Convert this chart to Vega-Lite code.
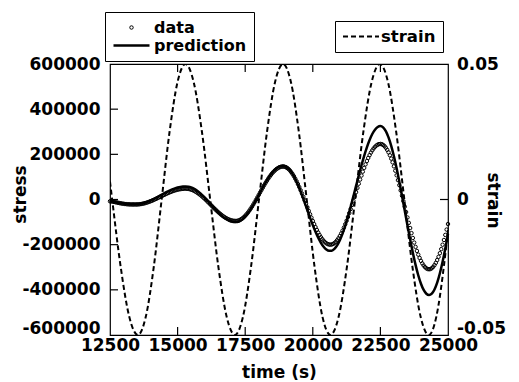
{
  "$schema": "https://vega.github.io/schema/vega-lite/v6.json",
  "width": 338,
  "height": 271,
  "autosize": {"type": "none"},
  "padding": {"left": 110, "top": 64, "right": 71, "bottom": 47},
  "background": "white",
  "config": {
    "view": {"stroke": "black", "strokeWidth": 1.2},
    "font": "DejaVu Sans",
    "axis": {
      "labelFont": "DejaVu Sans", "labelFontWeight": "bold", "labelFontSize": 17, "labelColor": "black",
      "titleFont": "DejaVu Sans", "titleFontWeight": "bold", "titleFontSize": 17, "titleColor": "black",
      "domain": false, "ticks": false, "grid": false,
      "labelFlush": false, "labelOverlap": false
    },
    "legend": {
      "labelFont": "DejaVu Sans", "labelFontWeight": "bold", "labelColor": "black",
      "strokeColor": "black", "fillColor": "white", "padding": 7
    }
  },
  "datasets": {
    "measured": [
      {"t": 12500, "stress": -8000}, {"t": 12550, "stress": -8600}, {"t": 12600, "stress": -9500}, {"t": 12650, "stress": -10700},
      {"t": 12700, "stress": -12000}, {"t": 12750, "stress": -13200}, {"t": 12800, "stress": -14500}, {"t": 12850, "stress": -15800},
      {"t": 12900, "stress": -17000}, {"t": 12950, "stress": -18000}, {"t": 13000, "stress": -19000}, {"t": 13050, "stress": -19800},
      {"t": 13100, "stress": -20500}, {"t": 13150, "stress": -21000}, {"t": 13200, "stress": -21500}, {"t": 13250, "stress": -21800},
      {"t": 13300, "stress": -22000}, {"t": 13350, "stress": -22000}, {"t": 13400, "stress": -22000}, {"t": 13450, "stress": -22000},
      {"t": 13500, "stress": -21900}, {"t": 13550, "stress": -21500}, {"t": 13600, "stress": -20900}, {"t": 13650, "stress": -20000},
      {"t": 13700, "stress": -18900}, {"t": 13750, "stress": -17600}, {"t": 13800, "stress": -16000}, {"t": 13850, "stress": -14200},
      {"t": 13900, "stress": -12300}, {"t": 13950, "stress": -10100}, {"t": 14000, "stress": -7800}, {"t": 14050, "stress": -5400},
      {"t": 14100, "stress": -2800}, {"t": 14150, "stress": -50}, {"t": 14200, "stress": 2800}, {"t": 14250, "stress": 5600},
      {"t": 14300, "stress": 8600}, {"t": 14350, "stress": 11500}, {"t": 14400, "stress": 14500}, {"t": 14450, "stress": 17400},
      {"t": 14500, "stress": 20400}, {"t": 14550, "stress": 23300}, {"t": 14600, "stress": 26100}, {"t": 14650, "stress": 28800},
      {"t": 14700, "stress": 31300}, {"t": 14750, "stress": 33800}, {"t": 14800, "stress": 36200}, {"t": 14850, "stress": 38300},
      {"t": 14900, "stress": 40200}, {"t": 14950, "stress": 42000}, {"t": 15000, "stress": 43600}, {"t": 15050, "stress": 44900},
      {"t": 15100, "stress": 46000}, {"t": 15150, "stress": 46900}, {"t": 15200, "stress": 47500}, {"t": 15250, "stress": 47900},
      {"t": 15300, "stress": 48000}, {"t": 15350, "stress": 47700}, {"t": 15400, "stress": 47000}, {"t": 15450, "stress": 45700},
      {"t": 15500, "stress": 43900}, {"t": 15550, "stress": 41700}, {"t": 15600, "stress": 38900}, {"t": 15650, "stress": 35700},
      {"t": 15700, "stress": 32100}, {"t": 15750, "stress": 28100}, {"t": 15800, "stress": 23700}, {"t": 15850, "stress": 19000},
      {"t": 15900, "stress": 14000}, {"t": 15950, "stress": 8700}, {"t": 16000, "stress": 3200}, {"t": 16050, "stress": -2600},
      {"t": 16100, "stress": -8400}, {"t": 16150, "stress": -14400}, {"t": 16200, "stress": -20500}, {"t": 16250, "stress": -26500},
      {"t": 16300, "stress": -32600}, {"t": 16350, "stress": -38600}, {"t": 16400, "stress": -44400}, {"t": 16450, "stress": -50200},
      {"t": 16500, "stress": -55700}, {"t": 16550, "stress": -61000}, {"t": 16600, "stress": -66000}, {"t": 16650, "stress": -70800},
      {"t": 16700, "stress": -75100}, {"t": 16750, "stress": -79100}, {"t": 16800, "stress": -82700}, {"t": 16850, "stress": -85900},
      {"t": 16900, "stress": -88700}, {"t": 16950, "stress": -90900}, {"t": 17000, "stress": -92700}, {"t": 17050, "stress": -94000},
      {"t": 17100, "stress": -94700}, {"t": 17150, "stress": -95000}, {"t": 17200, "stress": -94500}, {"t": 17250, "stress": -93100},
      {"t": 17300, "stress": -90700}, {"t": 17350, "stress": -87300}, {"t": 17400, "stress": -83100}, {"t": 17450, "stress": -77900},
      {"t": 17500, "stress": -72000}, {"t": 17550, "stress": -65200}, {"t": 17600, "stress": -57800}, {"t": 17650, "stress": -49600},
      {"t": 17700, "stress": -40900}, {"t": 17750, "stress": -31600}, {"t": 17800, "stress": -21900}, {"t": 17850, "stress": -11700},
      {"t": 17900, "stress": -1300}, {"t": 17950, "stress": 9300}, {"t": 18000, "stress": 20100}, {"t": 18050, "stress": 30900},
      {"t": 18100, "stress": 41700}, {"t": 18150, "stress": 52300}, {"t": 18200, "stress": 62700}, {"t": 18250, "stress": 72900},
      {"t": 18300, "stress": 82600}, {"t": 18350, "stress": 91900}, {"t": 18400, "stress": 100600}, {"t": 18450, "stress": 108800},
      {"t": 18500, "stress": 116200}, {"t": 18550, "stress": 123000}, {"t": 18600, "stress": 128900}, {"t": 18650, "stress": 134100},
      {"t": 18700, "stress": 138300}, {"t": 18750, "stress": 141700}, {"t": 18800, "stress": 144100}, {"t": 18850, "stress": 145500},
      {"t": 18900, "stress": 146000}, {"t": 18950, "stress": 145300}, {"t": 19000, "stress": 143200}, {"t": 19050, "stress": 139800},
      {"t": 19100, "stress": 135000}, {"t": 19150, "stress": 128900}, {"t": 19200, "stress": 121500}, {"t": 19250, "stress": 113000},
      {"t": 19300, "stress": 103300}, {"t": 19350, "stress": 92500}, {"t": 19400, "stress": 80900}, {"t": 19450, "stress": 68300},
      {"t": 19500, "stress": 55000}, {"t": 19550, "stress": 41000}, {"t": 19600, "stress": 26500}, {"t": 19650, "stress": 11500},
      {"t": 19700, "stress": -3800}, {"t": 19750, "stress": -19300}, {"t": 19800, "stress": -34800}, {"t": 19850, "stress": -50200},
      {"t": 19900, "stress": -65500}, {"t": 19950, "stress": -80500}, {"t": 20000, "stress": -95000}, {"t": 20050, "stress": -109000},
      {"t": 20100, "stress": -122300}, {"t": 20150, "stress": -134900}, {"t": 20200, "stress": -146500}, {"t": 20250, "stress": -157300},
      {"t": 20300, "stress": -167000}, {"t": 20350, "stress": -175500}, {"t": 20400, "stress": -182900}, {"t": 20450, "stress": -189000},
      {"t": 20500, "stress": -193800}, {"t": 20550, "stress": -197200}, {"t": 20600, "stress": -199300}, {"t": 20650, "stress": -200000},
      {"t": 20700, "stress": -199200}, {"t": 20750, "stress": -196800}, {"t": 20800, "stress": -192800}, {"t": 20850, "stress": -187300},
      {"t": 20900, "stress": -180200}, {"t": 20950, "stress": -171700}, {"t": 21000, "stress": -161800}, {"t": 21050, "stress": -150500},
      {"t": 21100, "stress": -138000}, {"t": 21150, "stress": -124300}, {"t": 21200, "stress": -109600}, {"t": 21250, "stress": -93900},
      {"t": 21300, "stress": -77400}, {"t": 21350, "stress": -60100}, {"t": 21400, "stress": -42300}, {"t": 21450, "stress": -24000},
      {"t": 21500, "stress": -5300}, {"t": 21550, "stress": 13500}, {"t": 21600, "stress": 32500}, {"t": 21650, "stress": 51300},
      {"t": 21700, "stress": 70000}, {"t": 21750, "stress": 88300}, {"t": 21800, "stress": 106100}, {"t": 21850, "stress": 123400},
      {"t": 21900, "stress": 139900}, {"t": 21950, "stress": 155600}, {"t": 22000, "stress": 170300}, {"t": 22050, "stress": 184100},
      {"t": 22100, "stress": 196500}, {"t": 22150, "stress": 207800}, {"t": 22200, "stress": 217700}, {"t": 22250, "stress": 226200},
      {"t": 22300, "stress": 233300}, {"t": 22350, "stress": 238800}, {"t": 22400, "stress": 242800}, {"t": 22450, "stress": 245200},
      {"t": 22500, "stress": 246000}, {"t": 22550, "stress": 244900}, {"t": 22600, "stress": 241800}, {"t": 22650, "stress": 236500},
      {"t": 22700, "stress": 229300}, {"t": 22750, "stress": 220000}, {"t": 22800, "stress": 208800}, {"t": 22850, "stress": 195800},
      {"t": 22900, "stress": 181100}, {"t": 22950, "stress": 164700}, {"t": 23000, "stress": 146900}, {"t": 23050, "stress": 127700},
      {"t": 23100, "stress": 107300}, {"t": 23150, "stress": 85800}, {"t": 23200, "stress": 63400}, {"t": 23250, "stress": 40300},
      {"t": 23300, "stress": 16700}, {"t": 23350, "stress": -7300}, {"t": 23400, "stress": -31500}, {"t": 23450, "stress": -55700},
      {"t": 23500, "stress": -79700}, {"t": 23550, "stress": -103300}, {"t": 23600, "stress": -126400}, {"t": 23650, "stress": -148800},
      {"t": 23700, "stress": -170300}, {"t": 23750, "stress": -190700}, {"t": 23800, "stress": -209900}, {"t": 23850, "stress": -227700},
      {"t": 23900, "stress": -244100}, {"t": 23950, "stress": -258800}, {"t": 24000, "stress": -271800}, {"t": 24050, "stress": -283000},
      {"t": 24100, "stress": -292300}, {"t": 24150, "stress": -299500}, {"t": 24200, "stress": -304800}, {"t": 24250, "stress": -307900},
      {"t": 24300, "stress": -309000}, {"t": 24350, "stress": -307800}, {"t": 24400, "stress": -304400}, {"t": 24450, "stress": -298600},
      {"t": 24500, "stress": -290600}, {"t": 24550, "stress": -280500}, {"t": 24600, "stress": -268200}, {"t": 24650, "stress": -253900},
      {"t": 24700, "stress": -237800}, {"t": 24750, "stress": -219800}, {"t": 24800, "stress": -200200}, {"t": 24850, "stress": -179200},
      {"t": 24900, "stress": -156800}, {"t": 24950, "stress": -133200}, {"t": 25000, "stress": -108600}
    ],
    "predicted": [
      {"t": 12500, "stress": -8000}, {"t": 12600, "stress": -9500}, {"t": 12700, "stress": -11800}, {"t": 12800, "stress": -14000},
      {"t": 12900, "stress": -16000}, {"t": 13000, "stress": -17600}, {"t": 13100, "stress": -18800}, {"t": 13200, "stress": -19600},
      {"t": 13300, "stress": -20000}, {"t": 13400, "stress": -20000}, {"t": 13500, "stress": -19900}, {"t": 13600, "stress": -18700},
      {"t": 13700, "stress": -16500}, {"t": 13800, "stress": -13300}, {"t": 13900, "stress": -9200}, {"t": 14000, "stress": -4200},
      {"t": 14100, "stress": 1400}, {"t": 14200, "stress": 7600}, {"t": 14300, "stress": 14000}, {"t": 14400, "stress": 20600},
      {"t": 14500, "stress": 27200}, {"t": 14600, "stress": 33600}, {"t": 14700, "stress": 39400}, {"t": 14800, "stress": 44800},
      {"t": 14900, "stress": 49400}, {"t": 15000, "stress": 53000}, {"t": 15100, "stress": 55800}, {"t": 15200, "stress": 57400},
      {"t": 15300, "stress": 58000}, {"t": 15400, "stress": 56900}, {"t": 15500, "stress": 53500}, {"t": 15600, "stress": 48000},
      {"t": 15700, "stress": 40500}, {"t": 15800, "stress": 31200}, {"t": 15900, "stress": 20400}, {"t": 16000, "stress": 8500},
      {"t": 16100, "stress": -4400}, {"t": 16200, "stress": -17700}, {"t": 16300, "stress": -31000}, {"t": 16400, "stress": -44100},
      {"t": 16500, "stress": -56600}, {"t": 16600, "stress": -68000}, {"t": 16700, "stress": -78100}, {"t": 16800, "stress": -86500},
      {"t": 16900, "stress": -93000}, {"t": 17000, "stress": -97500}, {"t": 17100, "stress": -99700}, {"t": 17200, "stress": -99500},
      {"t": 17300, "stress": -95500}, {"t": 17400, "stress": -87600}, {"t": 17500, "stress": -76100}, {"t": 17600, "stress": -61400},
      {"t": 17700, "stress": -43900}, {"t": 17800, "stress": -24100}, {"t": 17900, "stress": -2800}, {"t": 18000, "stress": 19400},
      {"t": 18100, "stress": 41800}, {"t": 18200, "stress": 63600}, {"t": 18300, "stress": 84200}, {"t": 18400, "stress": 103000},
      {"t": 18500, "stress": 119100}, {"t": 18600, "stress": 132300}, {"t": 18700, "stress": 142000}, {"t": 18800, "stress": 148000},
      {"t": 18900, "stress": 150000}, {"t": 19000, "stress": 147000}, {"t": 19100, "stress": 138000}, {"t": 19200, "stress": 123200},
      {"t": 19300, "stress": 103300}, {"t": 19400, "stress": 78900}, {"t": 19500, "stress": 50600}, {"t": 19600, "stress": 19400},
      {"t": 19700, "stress": -13700}, {"t": 19800, "stress": -47500}, {"t": 19900, "stress": -81100}, {"t": 20000, "stress": -113300},
      {"t": 20100, "stress": -143100}, {"t": 20200, "stress": -169600}, {"t": 20300, "stress": -191900}, {"t": 20400, "stress": -209300},
      {"t": 20500, "stress": -221200}, {"t": 20600, "stress": -227200}, {"t": 20700, "stress": -227000}, {"t": 20800, "stress": -219100},
      {"t": 20900, "stress": -203500}, {"t": 21000, "stress": -180600}, {"t": 21100, "stress": -151100}, {"t": 21200, "stress": -115900},
      {"t": 21300, "stress": -76000}, {"t": 21400, "stress": -32500}, {"t": 21500, "stress": 13400}, {"t": 21600, "stress": 60200},
      {"t": 21700, "stress": 106700}, {"t": 21800, "stress": 151600}, {"t": 21900, "stress": 193500}, {"t": 22000, "stress": 231200},
      {"t": 22100, "stress": 263600}, {"t": 22200, "stress": 289900}, {"t": 22300, "stress": 309200}, {"t": 22400, "stress": 321000},
      {"t": 22500, "stress": 325000}, {"t": 22600, "stress": 319300}, {"t": 22700, "stress": 302500}, {"t": 22800, "stress": 274900},
      {"t": 22900, "stress": 237500}, {"t": 23000, "stress": 191400}, {"t": 23100, "stress": 138000}, {"t": 23200, "stress": 78900},
      {"t": 23300, "stress": 15900}, {"t": 23400, "stress": -49000}, {"t": 23500, "stress": -113900}, {"t": 23600, "stress": -176900},
      {"t": 23700, "stress": -236000}, {"t": 23800, "stress": -289400}, {"t": 23900, "stress": -335500}, {"t": 24000, "stress": -372900},
      {"t": 24100, "stress": -400500}, {"t": 24200, "stress": -417300}, {"t": 24300, "stress": -423000}, {"t": 24400, "stress": -416800},
      {"t": 24500, "stress": -398200}, {"t": 24600, "stress": -367900}, {"t": 24700, "stress": -326700}, {"t": 24800, "stress": -276000},
      {"t": 24900, "stress": -217300}, {"t": 25000, "stress": -152200}
    ],
    "strain": [
      {"t": 12500, "strain": 0.0066}, {"t": 12580, "strain": 0}, {"t": 12897, "strain": -0.025}, {"t": 13213, "strain": -0.0433},
      {"t": 13530, "strain": -0.05}, {"t": 13823, "strain": -0.0433}, {"t": 14117, "strain": -0.025}, {"t": 14410, "strain": 0},
      {"t": 14703, "strain": 0.025}, {"t": 14997, "strain": 0.0433}, {"t": 15290, "strain": 0.05}, {"t": 15595, "strain": 0.0433},
      {"t": 15900, "strain": 0.025}, {"t": 16205, "strain": 0}, {"t": 16510, "strain": -0.025}, {"t": 16815, "strain": -0.0433},
      {"t": 17120, "strain": -0.05}, {"t": 17417, "strain": -0.0433}, {"t": 17713, "strain": -0.025}, {"t": 18010, "strain": 0},
      {"t": 18307, "strain": 0.025}, {"t": 18603, "strain": 0.0433}, {"t": 18900, "strain": 0.05}, {"t": 19192, "strain": 0.0433},
      {"t": 19483, "strain": 0.025}, {"t": 19775, "strain": 0}, {"t": 20067, "strain": -0.025}, {"t": 20358, "strain": -0.0433},
      {"t": 20650, "strain": -0.05}, {"t": 20955, "strain": -0.0433}, {"t": 21260, "strain": -0.025}, {"t": 21565, "strain": 0},
      {"t": 21870, "strain": 0.025}, {"t": 22175, "strain": 0.0433}, {"t": 22480, "strain": 0.05}, {"t": 22782, "strain": 0.0433},
      {"t": 23083, "strain": 0.025}, {"t": 23385, "strain": 0}, {"t": 23687, "strain": -0.025}, {"t": 23988, "strain": -0.0433},
      {"t": 24290, "strain": -0.05}, {"t": 24567, "strain": -0.0433}, {"t": 24843, "strain": -0.025}, {"t": 25000, "strain": -0.0112}
    ],
    "timeTicks": [
      {"t": 15000, "stress": -600000}, {"t": 17500, "stress": -600000}, {"t": 20000, "stress": -600000}, {"t": 22500, "stress": -600000},
      {"t": 15000, "stress": 600000}, {"t": 17500, "stress": 600000}, {"t": 20000, "stress": 600000}, {"t": 22500, "stress": 600000}
    ],
    "stressTicks": [
      {"t": 12500, "stress": -400000}, {"t": 12500, "stress": -200000}, {"t": 12500, "stress": 0},
      {"t": 12500, "stress": 200000}, {"t": 12500, "stress": 400000}
    ],
    "strainTicks": [
      {"t": 25000, "strain": 0}
    ]
  },
  "layer": [
    {
      "layer": [
        {
          "data": {"name": "measured"},
          "mark": {"type": "point", "shape": "circle", "filled": false, "color": "black", "opacity": 1},
          "encoding": {
            "x": {
              "field": "t", "type": "quantitative",
              "scale": {"domain": [12500, 25000], "nice": false, "zero": false},
              "axis": {
                "values": [12500, 15000, 17500, 20000, 22500, 25000],
                "labelExpr": "toString(datum.value)", "labelPadding": 2.5,
                "title": "time (s)", "titleBaseline": "alphabetic", "titleY": 42, "titleX": 169, "titleAlign": "center"
              }
            },
            "y": {
              "field": "stress", "type": "quantitative",
              "scale": {"domain": [-600000, 600000], "nice": false, "zero": false},
              "axis": {
                "values": [-600000, -400000, -200000, 0, 200000, 400000, 600000],
                "labelExpr": "toString(datum.value)", "labelPadding": 10,
                "labelOffset": {"condition": {"test": "datum.value === -600000", "value": -7}, "value": 0},
                "title": "stress", "titleAngle": -90, "titleBaseline": "alphabetic", "titleAlign": "center",
                "titleX": -85, "titleY": 130
              }
            },
            "shape": {
              "datum": "data", "type": "nominal",
              "scale": {"domain": ["data", "prediction"], "range": ["circle", "stroke"]},
              "legend": {"orient": "none", "legendX": -5, "legendY": -52, "title": null, "labelFontSize": 16, "labelOffset": 3, "rowPadding": 1, "clipHeight": 17, "symbolStrokeColor": "black", "symbolFillColor": "transparent"}
            },
            "size": {
              "datum": "data", "type": "nominal",
              "scale": {"type": "ordinal", "domain": ["data", "prediction"], "range": [12, 1296]},
              "legend": {"orient": "none", "legendX": -5, "legendY": -52, "title": null, "labelFontSize": 16, "labelOffset": 3, "rowPadding": 1, "clipHeight": 17, "symbolStrokeColor": "black", "symbolFillColor": "transparent"}
            },
            "strokeWidth": {
              "datum": "data", "type": "nominal",
              "scale": {"type": "ordinal", "domain": ["data", "prediction"], "range": [1, 2.5]},
              "legend": {"orient": "none", "legendX": -5, "legendY": -52, "title": null, "labelFontSize": 16, "labelOffset": 3, "rowPadding": 1, "clipHeight": 17, "symbolStrokeColor": "black", "symbolFillColor": "transparent"}
            }
          }
        },
        {
          "data": {"name": "predicted"},
          "mark": {"type": "line", "color": "black", "strokeWidth": 2.5, "interpolate": "monotone"},
          "encoding": {
            "x": {"field": "t", "type": "quantitative"},
            "y": {"field": "stress", "type": "quantitative"}
          }
        },
        {
          "data": {"name": "timeTicks"},
          "mark": {"type": "tick", "orient": "vertical", "size": 16, "thickness": 1.2, "color": "black", "opacity": 1, "clip": true},
          "encoding": {
            "x": {"field": "t", "type": "quantitative"},
            "y": {"field": "stress", "type": "quantitative"}
          }
        },
        {
          "data": {"name": "stressTicks"},
          "mark": {"type": "tick", "orient": "horizontal", "size": 16, "thickness": 1.2, "color": "black", "opacity": 1, "clip": true},
          "encoding": {
            "x": {"field": "t", "type": "quantitative"},
            "y": {"field": "stress", "type": "quantitative"}
          }
        }
      ]
    },
    {
      "layer": [
        {
          "data": {"name": "strain"},
          "mark": {"type": "line", "color": "black", "strokeWidth": 2, "interpolate": "monotone", "clip": true},
          "encoding": {
            "x": {
              "field": "t", "type": "quantitative",
              "axis": {"orient": "top", "values": [12500, 15000, 17500, 20000, 22500, 25000], "labels": false, "title": null}
            },
            "y": {
              "field": "strain", "type": "quantitative",
              "scale": {"domain": [-0.05, 0.05], "nice": false, "zero": false},
              "axis": {
                "orient": "right", "values": [-0.05, 0, 0.05],
                "labelExpr": "toString(datum.value)", "labelPadding": 8.5,
                "labelOffset": {"condition": {"test": "datum.value < -0.04", "value": -7}, "value": 0},
                "title": "strain", "titleAngle": 90, "titleBaseline": "alphabetic", "titleAlign": "center",
                "titleX": 39, "titleY": 136
              }
            },
            "strokeDash": {
              "datum": "strain", "type": "nominal",
              "scale": {"domain": ["strain"], "range": [[5, 3]]},
              "legend": {
                "orient": "none", "legendX": 225, "legendY": -43, "title": null,
                "labelFontSize": 16.5, "labelOffset": 1,
                "symbolSize": 1296, "clipHeight": 17, "symbolType": "stroke",
                "symbolStrokeWidth": 2, "symbolStrokeColor": "black"
              }
            }
          }
        },
        {
          "data": {"name": "strainTicks"},
          "mark": {"type": "tick", "orient": "horizontal", "size": 16, "thickness": 1.2, "color": "black", "opacity": 1, "clip": true},
          "encoding": {
            "x": {"field": "t", "type": "quantitative"},
            "y": {"field": "strain", "type": "quantitative"}
          }
        }
      ]
    }
  ],
  "resolve": {"scale": {"y": "independent"}, "axis": {"x": "independent"}}
}
